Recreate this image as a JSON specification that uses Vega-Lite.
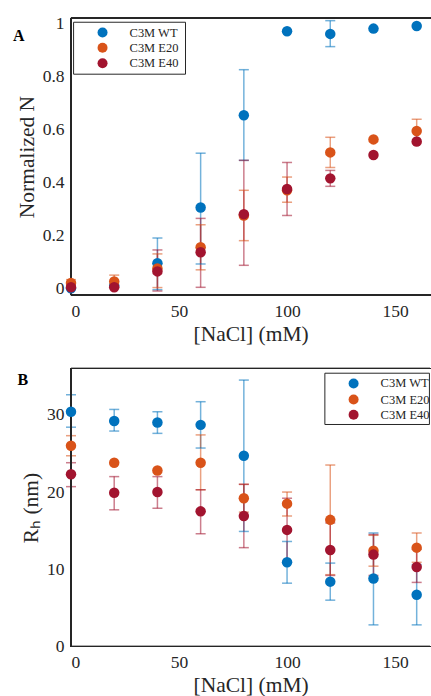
{
  "$schema": "https://vega.github.io/schema/vega-lite/v6.json",
  "padding": {"left": 13, "top": 14, "right": 0, "bottom": 0},
  "background": "white",
  "spacing": 22.5,
  "config": {
    "view": {"stroke": null},
    "font": "Liberation Serif",
    "axis": {
      "labelFont": "Liberation Serif", "labelFontSize": 17.5, "labelColor": "#262626",
      "titleFont": "Liberation Serif", "titleFontSize": 21.5, "titleFontWeight": "normal", "titleColor": "#262626",
      "domain": false, "ticks": false, "grid": false, "labelPadding": 7
    }
  },
  "datasets": {
    "a": [
      {"s": "C3M WT", "x": 0, "y": 0.0, "lo": null, "hi": null},
      {"s": "C3M WT", "x": 20, "y": 0.01, "lo": null, "hi": null},
      {"s": "C3M WT", "x": 40, "y": 0.095, "lo": -0.005, "hi": 0.19},
      {"s": "C3M WT", "x": 60, "y": 0.305, "lo": 0.092, "hi": 0.51},
      {"s": "C3M WT", "x": 80, "y": 0.653, "lo": 0.483, "hi": 0.825},
      {"s": "C3M WT", "x": 100, "y": 0.97, "lo": null, "hi": null},
      {"s": "C3M WT", "x": 120, "y": 0.96, "lo": 0.912, "hi": 1.01},
      {"s": "C3M WT", "x": 140, "y": 0.98, "lo": null, "hi": null},
      {"s": "C3M WT", "x": 160, "y": 0.99, "lo": null, "hi": null},
      {"s": "C3M E20", "x": 0, "y": 0.02, "lo": 0.005, "hi": 0.033},
      {"s": "C3M E20", "x": 20, "y": 0.026, "lo": 0.005, "hi": 0.05},
      {"s": "C3M E20", "x": 40, "y": 0.075, "lo": 0.003, "hi": 0.13},
      {"s": "C3M E20", "x": 60, "y": 0.155, "lo": 0.07, "hi": 0.24},
      {"s": "C3M E20", "x": 80, "y": 0.275, "lo": 0.18, "hi": 0.37},
      {"s": "C3M E20", "x": 100, "y": 0.37, "lo": 0.325, "hi": 0.42},
      {"s": "C3M E20", "x": 120, "y": 0.513, "lo": 0.456, "hi": 0.57},
      {"s": "C3M E20", "x": 140, "y": 0.562, "lo": null, "hi": null},
      {"s": "C3M E20", "x": 160, "y": 0.594, "lo": 0.55, "hi": 0.638},
      {"s": "C3M E40", "x": 0, "y": 0.004, "lo": null, "hi": null},
      {"s": "C3M E40", "x": 20, "y": 0.004, "lo": null, "hi": null},
      {"s": "C3M E40", "x": 40, "y": 0.064, "lo": -0.01, "hi": 0.145},
      {"s": "C3M E40", "x": 60, "y": 0.136, "lo": 0.004, "hi": 0.264},
      {"s": "C3M E40", "x": 80, "y": 0.28, "lo": 0.087, "hi": 0.483},
      {"s": "C3M E40", "x": 100, "y": 0.375, "lo": 0.275, "hi": 0.475},
      {"s": "C3M E40", "x": 120, "y": 0.415, "lo": 0.385, "hi": 0.445},
      {"s": "C3M E40", "x": 140, "y": 0.503, "lo": null, "hi": null},
      {"s": "C3M E40", "x": 160, "y": 0.554, "lo": null, "hi": null}
    ],
    "b": [
      {"s": "C3M WT", "x": 0, "y": 30.4, "lo": 28.4, "hi": 32.6},
      {"s": "C3M WT", "x": 20, "y": 29.2, "lo": 27.9, "hi": 30.7},
      {"s": "C3M WT", "x": 40, "y": 29.0, "lo": 27.6, "hi": 30.4},
      {"s": "C3M WT", "x": 60, "y": 28.7, "lo": 25.7, "hi": 31.7},
      {"s": "C3M WT", "x": 80, "y": 24.7, "lo": 14.9, "hi": 34.5},
      {"s": "C3M WT", "x": 100, "y": 10.9, "lo": 8.2, "hi": 13.6},
      {"s": "C3M WT", "x": 120, "y": 8.4, "lo": 6.0, "hi": 10.8},
      {"s": "C3M WT", "x": 140, "y": 8.8, "lo": 2.8, "hi": 14.7},
      {"s": "C3M WT", "x": 160, "y": 6.7, "lo": 2.8, "hi": 10.6},
      {"s": "C3M E20", "x": 0, "y": 26.0, "lo": 24.7, "hi": 27.3},
      {"s": "C3M E20", "x": 20, "y": 23.8, "lo": null, "hi": null},
      {"s": "C3M E20", "x": 40, "y": 22.8, "lo": null, "hi": null},
      {"s": "C3M E20", "x": 60, "y": 23.8, "lo": 20.3, "hi": 27.4},
      {"s": "C3M E20", "x": 80, "y": 19.2, "lo": 17.4, "hi": 21.0},
      {"s": "C3M E20", "x": 100, "y": 18.5, "lo": 16.9, "hi": 20.0},
      {"s": "C3M E20", "x": 120, "y": 16.4, "lo": 9.3, "hi": 23.5},
      {"s": "C3M E20", "x": 140, "y": 12.4, "lo": 10.4, "hi": 14.4},
      {"s": "C3M E20", "x": 160, "y": 12.8, "lo": 10.9, "hi": 14.7},
      {"s": "C3M E40", "x": 0, "y": 22.3, "lo": 20.7, "hi": 23.8},
      {"s": "C3M E40", "x": 20, "y": 19.9, "lo": 17.7, "hi": 22.0},
      {"s": "C3M E40", "x": 40, "y": 20.0, "lo": 17.9, "hi": 22.0},
      {"s": "C3M E40", "x": 60, "y": 17.5, "lo": 14.6, "hi": 20.3},
      {"s": "C3M E40", "x": 80, "y": 16.9, "lo": 12.8, "hi": 21.0},
      {"s": "C3M E40", "x": 100, "y": 15.1, "lo": 11.0, "hi": 19.2},
      {"s": "C3M E40", "x": 120, "y": 12.5, "lo": 9.2, "hi": 16.0},
      {"s": "C3M E40", "x": 140, "y": 11.9, "lo": 9.2, "hi": 14.5},
      {"s": "C3M E40", "x": 160, "y": 10.3, "lo": 8.3, "hi": 12.6}
    ]
  },
  "resolve": {"scale": {"fill": "independent", "stroke": "independent"}},
  "vconcat": [
    {
      "width": 359.3, "height": 277,
      "data": {"name": "a"},
      "title": {"text": "A", "anchor": "start", "frame": "bounds", "fontSize": 16, "fontWeight": "bold", "font": "Liberation Serif", "color": "black", "dy": 30, "dx": -3, "offset": 0},
      "encoding": {
        "x": {"field": "x", "type": "quantitative", "scale": {"domain": [0, 166.3], "nice": false, "zero": false}, "axis": {"values": [0, 50, 100, 150], "title": "[NaCl] (mM)"}}
      },
      "layer": [
        {"mark": {"type": "rule", "opacity": 0.55, "strokeWidth": 1.5},
         "encoding": {"y": {"field": "lo", "type": "quantitative", "scale": {"domain": [-0.025, 1.02], "nice": false, "zero": false}, "axis": {"values": [0, 0.2, 0.4, 0.6, 0.8, 1], "format": "~g", "title": "Normalized  N"}}, "y2": {"field": "hi"},
           "stroke": {"field": "s", "type": "nominal", "scale": {"domain": ["C3M WT", "C3M E20", "C3M E40"], "range": ["#0072BD", "#D95319", "#A2142F"]}, "legend": null}}},
        {"mark": {"type": "point", "shape": "M-1,0L1,0", "filled": false, "size": 100, "strokeWidth": 1.5, "opacity": 0.55},
         "encoding": {"y": {"field": "lo", "type": "quantitative"},
           "stroke": {"field": "s", "type": "nominal", "legend": null}}},
        {"mark": {"type": "point", "shape": "M-1,0L1,0", "filled": false, "size": 100, "strokeWidth": 1.5, "opacity": 0.55},
         "encoding": {"y": {"field": "hi", "type": "quantitative"},
           "stroke": {"field": "s", "type": "nominal", "legend": null}}},
        {"mark": {"type": "rule", "color": "#262626", "strokeWidth": 1},
         "encoding": {"y": {"datum": 1.02, "type": "quantitative"}, "x": null}},
        {"mark": {"type": "rule", "color": "#262626", "strokeWidth": 1},
         "encoding": {"y": {"datum": -0.025, "type": "quantitative"}, "x": null}},
        {"mark": {"type": "rule", "color": "#262626", "strokeWidth": 1},
         "encoding": {"x": {"datum": 0, "type": "quantitative"}, "y": null}},
        {"mark": {"type": "point", "filled": true, "shape": "circle", "size": 110, "opacity": 1},
         "encoding": {"y": {"field": "y", "type": "quantitative"},
           "fill": {"field": "s", "type": "nominal", "scale": {"domain": ["C3M WT", "C3M E20", "C3M E40"], "range": ["#0072BD", "#D95319", "#A2142F"]}, "legend": null}}},
        {"transform": [{"filter": "datum.x == 0 && datum.s == 'C3M WT'"}],
         "mark": {"type": "rect", "fill": "white", "stroke": "#262626", "strokeWidth": 1},
         "encoding": {"x": {"datum": 1.2, "type": "quantitative"}, "x2": {"datum": 53}, "y": {"datum": 1.004, "type": "quantitative"}, "y2": {"datum": 0.808}}},
        {"transform": [{"filter": "datum.x == 0 && datum.s == 'C3M WT'"}],
         "mark": {"type": "point", "filled": true, "shape": "circle", "size": 100, "opacity": 1, "color": "#0072BD"},
         "encoding": {"x": {"datum": 14.6, "type": "quantitative"}, "y": {"datum": 0.965, "type": "quantitative"}}},
        {"transform": [{"filter": "datum.x == 0 && datum.s == 'C3M WT'"}],
         "mark": {"type": "point", "filled": true, "shape": "circle", "size": 100, "opacity": 1, "color": "#D95319"},
         "encoding": {"x": {"datum": 14.6, "type": "quantitative"}, "y": {"datum": 0.908, "type": "quantitative"}}},
        {"transform": [{"filter": "datum.x == 0 && datum.s == 'C3M WT'"}],
         "mark": {"type": "point", "filled": true, "shape": "circle", "size": 100, "opacity": 1, "color": "#A2142F"},
         "encoding": {"x": {"datum": 14.6, "type": "quantitative"}, "y": {"datum": 0.849, "type": "quantitative"}}},
        {"transform": [{"filter": "datum.x == 0 && datum.s == 'C3M WT'"}],
         "mark": {"type": "text", "align": "left", "baseline": "middle", "font": "Liberation Serif", "fontSize": 12.5, "color": "#262626"},
         "encoding": {"x": {"datum": 27.1, "type": "quantitative"}, "y": {"datum": 0.965, "type": "quantitative"}, "text": {"value": "C3M WT"}}},
        {"transform": [{"filter": "datum.x == 0 && datum.s == 'C3M WT'"}],
         "mark": {"type": "text", "align": "left", "baseline": "middle", "font": "Liberation Serif", "fontSize": 12.5, "color": "#262626"},
         "encoding": {"x": {"datum": 27.1, "type": "quantitative"}, "y": {"datum": 0.908, "type": "quantitative"}, "text": {"value": "C3M E20"}}},
        {"transform": [{"filter": "datum.x == 0 && datum.s == 'C3M WT'"}],
         "mark": {"type": "text", "align": "left", "baseline": "middle", "font": "Liberation Serif", "fontSize": 12.5, "color": "#262626"},
         "encoding": {"x": {"datum": 27.1, "type": "quantitative"}, "y": {"datum": 0.849, "type": "quantitative"}, "text": {"value": "C3M E40"}}}
      ]
    },
    {
      "width": 359.3, "height": 278,
      "data": {"name": "b"},
      "title": {"text": "B", "anchor": "start", "frame": "bounds", "fontSize": 16, "fontWeight": "bold", "font": "Liberation Serif", "color": "black", "dy": 20, "dx": -3, "offset": 0},
      "encoding": {
        "x": {"field": "x", "type": "quantitative", "scale": {"domain": [0, 166.3], "nice": false, "zero": false}, "axis": {"values": [0, 50, 100, 150], "title": "[NaCl] (mM)"}}
      },
      "layer": [
        {"mark": {"type": "rule", "opacity": 0.55, "strokeWidth": 1.5},
         "encoding": {"y": {"field": "lo", "type": "quantitative", "scale": {"domain": [0, 36], "nice": false, "zero": false}, "axis": {"values": [0, 10, 20, 30], "title": "Rₕ (nm)"}}, "y2": {"field": "hi"},
           "stroke": {"field": "s", "type": "nominal", "scale": {"domain": ["C3M WT", "C3M E20", "C3M E40"], "range": ["#0072BD", "#D95319", "#A2142F"]}, "legend": null}}},
        {"mark": {"type": "point", "shape": "M-1,0L1,0", "filled": false, "size": 100, "strokeWidth": 1.5, "opacity": 0.55},
         "encoding": {"y": {"field": "lo", "type": "quantitative"},
           "stroke": {"field": "s", "type": "nominal", "legend": null}}},
        {"mark": {"type": "point", "shape": "M-1,0L1,0", "filled": false, "size": 100, "strokeWidth": 1.5, "opacity": 0.55},
         "encoding": {"y": {"field": "hi", "type": "quantitative"},
           "stroke": {"field": "s", "type": "nominal", "legend": null}}},
        {"mark": {"type": "rule", "color": "#262626", "strokeWidth": 1},
         "encoding": {"y": {"datum": 36, "type": "quantitative"}, "x": null}},
        {"mark": {"type": "rule", "color": "#262626", "strokeWidth": 1},
         "encoding": {"y": {"datum": 0, "type": "quantitative"}, "x": null}},
        {"mark": {"type": "rule", "color": "#262626", "strokeWidth": 1},
         "encoding": {"x": {"datum": 0, "type": "quantitative"}, "y": null}},
        {"mark": {"type": "point", "filled": true, "shape": "circle", "size": 110, "opacity": 1},
         "encoding": {"y": {"field": "y", "type": "quantitative"},
           "fill": {"field": "s", "type": "nominal", "scale": {"domain": ["C3M WT", "C3M E20", "C3M E40"], "range": ["#0072BD", "#D95319", "#A2142F"]}, "legend": null}}},
        {"transform": [{"filter": "datum.x == 0 && datum.s == 'C3M WT'"}],
         "mark": {"type": "rect", "fill": "white", "stroke": "#262626", "strokeWidth": 1},
         "encoding": {"x": {"datum": 117.5, "type": "quantitative"}, "x2": {"datum": 165.9}, "y": {"datum": 35.39, "type": "quantitative"}, "y2": {"datum": 28.75}}},
        {"transform": [{"filter": "datum.x == 0 && datum.s == 'C3M WT'"}],
         "mark": {"type": "point", "filled": true, "shape": "circle", "size": 100, "opacity": 1, "color": "#0072BD"},
         "encoding": {"x": {"datum": 130.8, "type": "quantitative"}, "y": {"datum": 34.06, "type": "quantitative"}}},
        {"transform": [{"filter": "datum.x == 0 && datum.s == 'C3M WT'"}],
         "mark": {"type": "point", "filled": true, "shape": "circle", "size": 100, "opacity": 1, "color": "#D95319"},
         "encoding": {"x": {"datum": 130.8, "type": "quantitative"}, "y": {"datum": 31.98, "type": "quantitative"}}},
        {"transform": [{"filter": "datum.x == 0 && datum.s == 'C3M WT'"}],
         "mark": {"type": "point", "filled": true, "shape": "circle", "size": 100, "opacity": 1, "color": "#A2142F"},
         "encoding": {"x": {"datum": 130.8, "type": "quantitative"}, "y": {"datum": 30.0, "type": "quantitative"}}},
        {"transform": [{"filter": "datum.x == 0 && datum.s == 'C3M WT'"}],
         "mark": {"type": "text", "align": "left", "baseline": "middle", "font": "Liberation Serif", "fontSize": 12.5, "color": "#262626"},
         "encoding": {"x": {"datum": 143.3, "type": "quantitative"}, "y": {"datum": 34.06, "type": "quantitative"}, "text": {"value": "C3M WT"}}},
        {"transform": [{"filter": "datum.x == 0 && datum.s == 'C3M WT'"}],
         "mark": {"type": "text", "align": "left", "baseline": "middle", "font": "Liberation Serif", "fontSize": 12.5, "color": "#262626"},
         "encoding": {"x": {"datum": 143.3, "type": "quantitative"}, "y": {"datum": 31.98, "type": "quantitative"}, "text": {"value": "C3M E20"}}},
        {"transform": [{"filter": "datum.x == 0 && datum.s == 'C3M WT'"}],
         "mark": {"type": "text", "align": "left", "baseline": "middle", "font": "Liberation Serif", "fontSize": 12.5, "color": "#262626"},
         "encoding": {"x": {"datum": 143.3, "type": "quantitative"}, "y": {"datum": 30.0, "type": "quantitative"}, "text": {"value": "C3M E40"}}}
      ]
    }
  ]
}
